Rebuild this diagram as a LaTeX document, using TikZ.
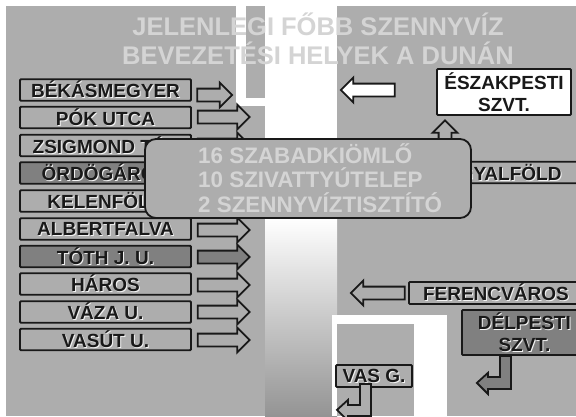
\documentclass[tikz,border=0pt]{standalone}
\usepackage{fontspec}
\setmainfont{Liberation Sans}
\usetikzlibrary{shapes.arrows}
\definecolor{panelcol}{RGB}{173,173,173}
\definecolor{darkcol}{RGB}{128,128,128}
\definecolor{titlecol}{RGB}{212,212,212}
\definecolor{linecol}{RGB}{25,25,25}
\newcommand{\shadowtext}[1]{\leavevmode\rlap{\raisebox{-1pt}{\kern1pt\textcolor{white!85!panelcol}{#1}}}#1}

\begin{document}
\begin{tikzpicture}[
    x=1pt, y=-1pt,
    plate/.style={rectangle, draw=linecol, line width=1.8pt, rounded corners=1pt, inner sep=0pt, font=\fontsize{19}{22.5}\selectfont\bfseries, text=linecol, align=center},
    sidebox/.style={plate, minimum width=171pt, minimum height=21.5pt},
    pipe/.style={single arrow, draw=linecol, line width=1.8pt, inner sep=0pt, text width=11pt, text height=11pt, text depth=0pt, minimum width=23pt, single arrow head extend=6pt, single arrow head indent=0pt, minimum height=52pt},
    bentpipe/.style={draw=linecol, line width=1.8pt, line join=miter},
    heading/.style={font=\fontsize{25.5}{29}\selectfont\bfseries, text=titlecol, align=center},
]
\useasboundingbox (0,0) rectangle (576,416);

% ground and river
\fill[panelcol] (6,6) rectangle (576,416);
\fill[white] (236,6) rectangle (337,218);
\fill[panelcol] (246,6) rectangle (265,98);
\fill[panelcol] (236,106) rectangle (265,218);
\shade[top color=white, bottom color=black!42] (265,218) rectangle (337,416);
\fill[white] (332,315) rectangle (447,416);
\fill[panelcol] (337,324) rectangle (414,416);

\node[heading] (title) at (318,38.5) {JELENLEGI FŐBB SZENNYVÍZ\\BEVEZETÉSI HELYEK A DUNÁN};

% left bank
\node[sidebox] (bekas) at (105.5,90) {\shadowtext{BÉKÁSMEGYER}};
\node[sidebox] (pok) at (105.5,117.5) {\shadowtext{PÓK UTCA}};
\node[sidebox] (zsig) at (105.5,145.5) {\shadowtext{ZSIGMOND TÉR}};
\node[sidebox, fill=darkcol] (ordog) at (105.5,173) {\shadowtext{ÖRDÖGÁROK}};
\node[sidebox] (kelen) at (105.5,201) {\shadowtext{KELENFÖLD}};
\node[sidebox] (albert) at (105.5,229) {\shadowtext{ALBERTFALVA}};
\node[sidebox, fill=darkcol] (toth) at (105.5,256.5) {\shadowtext{TÓTH J. U.}};
\node[sidebox] (haros) at (105.5,284) {\shadowtext{HÁROS}};
\node[sidebox] (vaza) at (105.5,312) {\shadowtext{VÁZA U.}};
\node[sidebox] (vasut) at (105.5,339.5) {\shadowtext{VASÚT U.}};

\node[pipe, minimum height=35pt] (pipebekas) at (211.5,95) {};
\node[pipe] (pipepok) at (220.5,117) {};
\node[pipe] (pipezsig) at (220.5,145) {};
\node[pipe, fill=darkcol] (pipeordog) at (220.5,173) {};
\node[pipe] (pipekelen) at (220.5,201) {};
\node[pipe] (pipealbert) at (220.5,230) {};
\node[pipe, fill=darkcol] (pipetoth) at (220.5,257) {};
\node[pipe] (pipeharos) at (220.5,285) {};
\node[pipe] (pipevaza) at (220.5,312) {};
\node[pipe] (pipevasut) at (220.5,340) {};

% right bank
\node[plate, fill=white, minimum width=134pt, minimum height=46pt] (eszak) at (504,92) {ÉSZAKPESTI\\SZVT.};
\node[pipe, fill=white, shape border rotate=180, minimum height=54pt] (pipeeszak) at (371,90) {};
\node[pipe, shape border rotate=90, minimum height=45pt] (pipeangyal) at (445,146) {};
\node[plate, minimum width=170pt, minimum height=21.5pt, anchor=west] (angyal) at (420,172.5) {\shadowtext{ANGYALFÖLD}\hspace{19pt}};
\node[plate, minimum width=180pt, minimum height=22pt, anchor=west] (feren) at (408,293) {\shadowtext{FERENCVÁROS}\hspace{6pt}};
\node[pipe, shape border rotate=180, minimum height=54pt] (pipeferen) at (381,293) {};
\node[plate, fill=darkcol, minimum width=125pt, minimum height=45pt, anchor=west] (delp) at (461,332.5) {\shadowtext{DÉLPESTI}\hspace{10pt}\\\shadowtext{SZVT.}\hspace{10pt}};
\node[plate, minimum width=76pt, minimum height=22pt] (vas) at (374,376) {\shadowtext{VAS G.}};

\draw[bentpipe, fill=darkcol] ([xshift=-24.5pt]delp.south) -- ++(11,0) -- ++(0,33) -- ++(-23,0) -- ++(0,5) -- ++(-11,-11) -- ++(11,-10) -- ++(0,4) -- ++(12,0) -- cycle;
\draw[bentpipe, fill=panelcol] ([xshift=-14pt,yshift=4pt]vas.south) -- ++(11,0) -- ++(0,32) -- ++(-23,0) -- ++(0,5) -- ++(-11,-11) -- ++(11,-10) -- ++(0,5) -- ++(12,0) -- cycle;

% summary
\node[rectangle, rounded corners=11pt, draw=linecol, line width=1.8pt, fill=panelcol, minimum width=326pt, minimum height=79pt] (summary) at (308,178.5) {};
\node[anchor=west, inner sep=0pt, font=\fontsize{22.4}{24.5}\selectfont\bfseries, text=titlecol, align=left] (summarytext) at (198,178) {16 SZABADKIÖMLŐ\\10 SZIVATTYÚTELEP\\2 SZENNYVÍZTISZTÍTÓ};
\end{tikzpicture}
\end{document}
